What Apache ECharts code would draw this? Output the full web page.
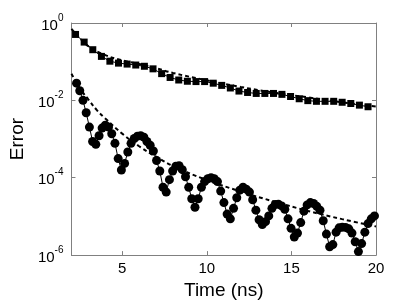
<!DOCTYPE html>
<html>
<head>
<meta charset="utf-8">
<script src="https://cdn.jsdelivr.net/npm/echarts@6/dist/echarts.min.js"></script>
<style>
html,body{margin:0;padding:0;background:#fff;}
#c{width:415px;height:305px;}
</style>
</head>
<body>
<div id="c"></div>
<script>
// ---- data ----
const squareTimes = [2.24,2.75,3.26,3.77,4.27,4.78,5.29,5.80,6.31,6.82,7.33,7.83,8.34,8.85,9.36,9.87,10.38,10.88,11.39,11.90,12.41,12.92,13.43,13.94,14.44,14.95,15.46,15.97,16.48,16.99,17.50,18.00,18.51,19.02,19.53];
const squareErrors = [0.506,0.321,0.204,0.137,0.103,0.0918,0.0867,0.0819,0.0761,0.0653,0.0491,0.0391,0.0336,0.0312,0.0306,0.0306,0.0278,0.0244,0.0209,0.0174,0.0160,0.0151,0.0151,0.0151,0.0143,0.0126,0.0110,0.00984,0.00945,0.00945,0.00945,0.00893,0.00829,0.00753,0.00684];

const circleTimes = [2.30,2.49,2.68,2.87,3.06,3.25,3.44,3.63,3.81,4.00,4.19,4.38,4.57,4.76,4.95,5.14,5.33,5.52,5.71,5.90,6.09,6.28,6.46,6.65,6.84,7.03,7.22,7.41,7.60,7.79,7.98,8.17,8.36,8.55,8.74,8.93,9.11,9.30,9.49,9.68,9.87,10.06,10.25,10.44,10.63,10.82,11.01,11.20,11.39,11.58,11.77,11.95,12.14,12.33,12.52,12.71,12.90,13.09,13.28,13.47,13.66,13.85,14.04,14.23,14.42,14.61,14.80,14.98,15.17,15.36,15.55,15.74,15.93,16.12,16.31,16.50,16.69,16.88,17.07,17.26,17.45,17.64,17.82,18.01,18.20,18.39,18.58,18.77,18.96,19.15,19.34,19.53,19.72,19.91];
const circleErrors = [2.78e-2,1.77e-2,1.00e-2,4.77e-3,2.04e-3,8.67e-4,7.31e-4,1.22e-3,1.92e-3,2.28e-3,2.04e-3,1.37e-3,7.74e-4,3.12e-4,1.58e-4,2.35e-4,4.64e-4,7.74e-4,1.03e-3,1.19e-3,1.22e-3,1.12e-3,8.67e-4,6.92e-4,4.91e-4,2.78e-4,1.49e-4,5.66e-5,4.26e-5,8.93e-5,1.49e-4,1.98e-4,2.04e-4,1.62e-4,1.06e-4,5.66e-5,2.86e-5,1.72e-5,2.86e-5,5.66e-5,7.96e-5,9.44e-5,1.00e-4,9.44e-5,7.96e-5,4.51e-5,2.28e-5,1.15e-5,8.67e-6,1.62e-5,3.03e-5,4.77e-5,5.66e-5,5.06e-5,4.26e-5,2.70e-5,1.45e-5,8.20e-6,6.17e-6,7.31e-6,1.03e-5,1.62e-5,2.04e-5,2.07e-5,1.87e-5,1.53e-5,8.67e-6,4.91e-6,2.94e-6,3.70e-6,6.92e-6,1.37e-5,1.98e-5,2.28e-5,2.15e-5,1.82e-5,1.45e-5,7.74e-6,3.49e-6,1.64e-6,1.87e-6,3.92e-6,5.06e-6,5.28e-6,5.20e-6,4.77e-6,3.70e-6,2.22e-6,1.23e-6,1.98e-6,3.92e-6,6.53e-6,8.67e-6,1.03e-5];

const upperFitTimes = [2,3,4,5,6,7,8,10,12,14,16,18,20];
const upperFitErrors = [0.71,0.25,0.148,0.108,0.087,0.068,0.051,0.033,0.0222,0.0158,0.0119,0.0089,0.0069];

const lowerFitTimes = [2,2.5,3,3.5,4,5,6,7,8,10,12,14,16,18,20];
const lowerFitErrors = [4.9e-2,2.04e-2,1.05e-2,5.6e-3,3.4e-3,1.38e-3,6.5e-4,3.5e-4,2.0e-4,8.7e-5,4.4e-5,2.4e-5,1.38e-5,8.5e-6,5.5e-6];

const xTicks = [5,10,15,20];
const yTicks = [1e-6,1e-4,1e-2,1];

const xLabel = 'Time (ns)';
const yLabel = 'Error';

// ---- chart ----
const FONT = 'Liberation Sans, Arial, Helvetica, sans-serif';
const AXIS_COLOR = '#808080';
const zip = (a,b) => a.map((v,i)=>[v,b[i]]);

const chart = echarts.init(document.getElementById('c'), null, {renderer:'canvas'});

const baseX = {
  type:'value', min:2, max:20,
  axisLine:{show:true, onZero:false, lineStyle:{color:AXIS_COLOR, width:1}},
  axisTick:{show:true, inside:true, length:4, customValues:xTicks, lineStyle:{color:AXIS_COLOR}},
  splitLine:{show:false}
};
const baseY = {
  type:'log', logBase:10, min:1e-6, max:1,
  axisLine:{show:true, onZero:false, lineStyle:{color:AXIS_COLOR, width:1}},
  axisTick:{show:true, inside:true, length:4, customValues:yTicks, lineStyle:{color:AXIS_COLOR}},
  splitLine:{show:false}
};

chart.setOption({
  animation:false,
  backgroundColor:'#fff',
  grid:{left:58, right:39, top:23, bottom:39, containLabel:false},
  xAxis:[
    Object.assign({}, baseX, {
      position:'bottom',
      axisLabel:{show:true, customValues:xTicks, fontSize:15, color:'#000', fontFamily:FONT, margin:6},
      name:xLabel, nameLocation:'middle', nameGap:14,
      nameTextStyle:{fontSize:19, color:'#000', fontFamily:FONT, verticalAlign:'top'}
    }),
    Object.assign({}, baseX, {position:'top', axisLabel:{show:false}})
  ],
  yAxis:[
    Object.assign({}, baseY, {
      position:'left',
      axisLabel:{
        show:true, customValues:yTicks, margin:8, color:'#000', fontFamily:FONT,
        formatter:function(v){ const e = Math.round(Math.log10(v)); return '{b|10}{s|' + (e<0?'-':'') + Math.abs(e) + '}'; },
        rich:{
          b:{fontSize:15, fontFamily:FONT, color:'#000', lineHeight:20, verticalAlign:'bottom'},
          s:{fontSize:10, fontFamily:FONT, color:'#000', lineHeight:12, verticalAlign:'top'}
        }
      },
      name:yLabel, nameLocation:'middle', nameGap:40, nameRotate:90,
      nameTextStyle:{fontSize:19, color:'#000', fontFamily:FONT}
    }),
    Object.assign({}, baseY, {position:'right', axisLabel:{show:false}})
  ],
  series:[
    {
      type:'line', data:zip(upperFitTimes, upperFitErrors), smooth:0.4, showSymbol:false, symbol:'none',
      lineStyle:{color:'#000', width:2, type:[4,3]}, z:3
    },
    {
      type:'line', data:zip(lowerFitTimes, lowerFitErrors), smooth:0.4, showSymbol:false, symbol:'none',
      lineStyle:{color:'#000', width:2, type:[4,3]}, z:3
    },
    {
      type:'line', data:zip(squareTimes, squareErrors), symbol:'rect', symbolSize:7,
      itemStyle:{color:'#000'}, lineStyle:{color:'#000', width:1}, z:4
    },
    {
      type:'line', data:zip(circleTimes, circleErrors), symbol:'circle', symbolSize:9,
      itemStyle:{color:'#000'}, lineStyle:{color:'#000', width:1}, z:4
    }
  ]
});
</script>
</body>
</html>
